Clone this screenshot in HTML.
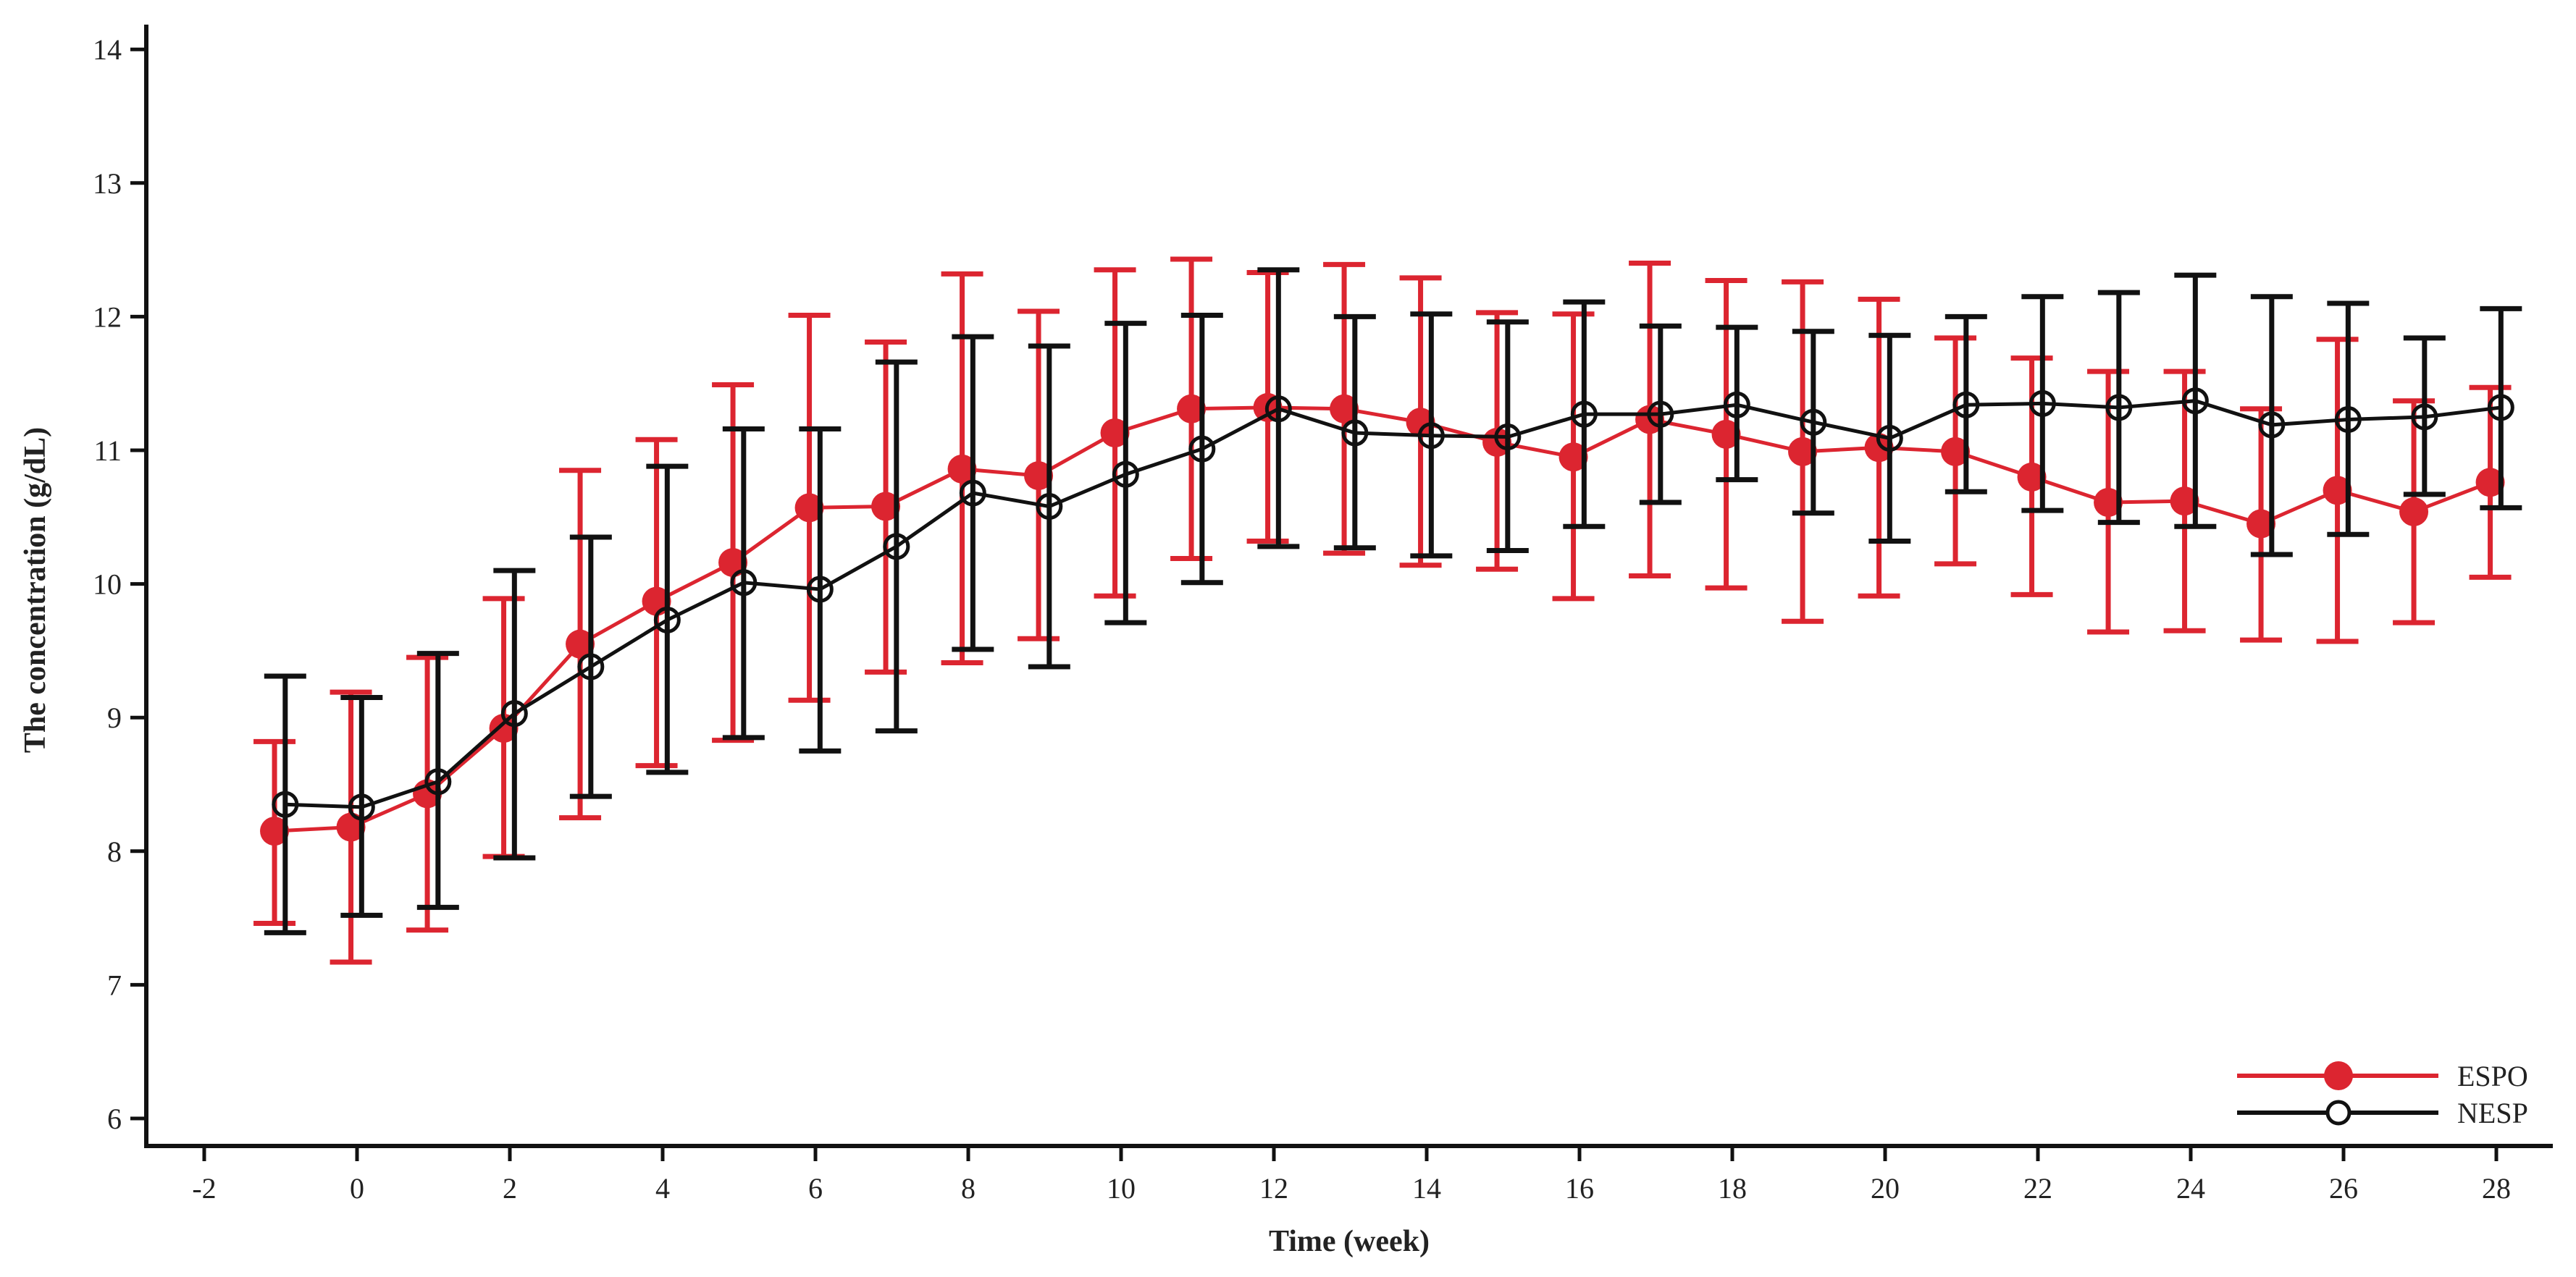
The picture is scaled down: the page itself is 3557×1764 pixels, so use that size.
<!DOCTYPE html>
<html><head><meta charset="utf-8">
<style>
html,body{margin:0;padding:0;background:#fff;}
svg{display:block;}
text{font-family:"Liberation Serif",serif;fill:#222;}
</style></head>
<body>
<svg id="chart" width="3557" height="1764" viewBox="0 0 3557 1764" xmlns="http://www.w3.org/2000/svg">
<g id="axes"></g>
<g id="series"></g>
<g id="legend"></g>
</svg>
<script>
const weeks = [-1,0,1,2,3,4,5,6,7,8,9,10,11,12,13,14,15,16,17,18,19,20,21,22,23,24,25,26,27,28];
const espoMean = [8.15,8.18,8.43,8.92,9.55,9.87,10.16,10.57,10.58,10.86,10.81,11.13,11.31,11.32,11.31,11.21,11.06,10.95,11.23,11.12,10.99,11.02,10.99,10.80,10.61,10.62,10.45,10.70,10.54,10.76];
const espoUpper = [8.82,9.19,9.45,9.89,10.85,11.08,11.49,12.01,11.81,12.32,12.04,12.35,12.43,12.33,12.39,12.29,12.03,12.02,12.40,12.27,12.26,12.13,11.84,11.69,11.59,11.59,11.31,11.83,11.37,11.47];
const espoLower = [7.46,7.17,7.41,7.96,8.25,8.64,8.83,9.13,9.34,9.41,9.59,9.91,10.19,10.32,10.23,10.14,10.11,9.89,10.06,9.97,9.72,9.91,10.15,9.92,9.64,9.65,9.58,9.57,9.71,10.05];
const nespMean = [8.35,8.33,8.52,9.03,9.38,9.73,10.01,9.96,10.28,10.68,10.58,10.82,11.01,11.31,11.13,11.11,11.10,11.27,11.27,11.34,11.21,11.09,11.34,11.35,11.32,11.37,11.19,11.23,11.25,11.32];
const nespUpper = [9.31,9.15,9.48,10.10,10.35,10.88,11.16,11.16,11.66,11.85,11.78,11.95,12.01,12.35,12.00,12.02,11.96,12.11,11.93,11.92,11.89,11.86,12.00,12.15,12.18,12.31,12.15,12.10,11.84,12.06];
const nespLower = [7.39,7.52,7.58,7.95,8.41,8.59,8.85,8.75,8.90,9.51,9.38,9.71,10.01,10.28,10.27,10.21,10.25,10.43,10.61,10.78,10.53,10.32,10.69,10.55,10.46,10.43,10.22,10.37,10.67,10.57];
const xTicks = [-2,0,2,4,6,8,10,12,14,16,18,20,22,24,26,28];
const yTicks = [6,7,8,9,10,11,12,13,14];

const NS='http://www.w3.org/2000/svg';
const X0=493, XW=105.5, Y6=1545, YU=184.6;
function xs(w){return X0+w*XW;}
function ys(v){return Y6-(v-6)*YU;}
function mk(tag,parent,attrs){const e=document.createElementNS(NS,tag);for(const k in attrs)e.setAttribute(k,attrs[k]);parent.appendChild(e);return e;}

const axes=document.getElementById('axes');
let yAxis=mk('line',axes,{x1:202,y1:34,x2:202,y2:1585,stroke:'#111','stroke-width':6});


let xAxis=mk('line',axes,{x1:199,y1:1583,x2:3525,y2:1583,stroke:'#111','stroke-width':6});


yTicks.forEach(v=>{
  const t=mk('line',axes,{x1:180,y1:ys(v),x2:202,y2:ys(v),stroke:'#111','stroke-width':5});
  
  
  const l=mk('text',axes,{x:168,y:ys(v)+14,'text-anchor':'end','font-size':40});
  l.textContent=v;
  
  
});
xTicks.forEach(w=>{
  const t=mk('line',axes,{x1:xs(w),y1:1583,x2:xs(w),y2:1604,stroke:'#111','stroke-width':5});
  
  
  const l=mk('text',axes,{x:xs(w),y:1655,'text-anchor':'middle','font-size':40});
  l.textContent=w;
  
  
});
let xt=mk('text',axes,{x:1863,y:1728,'text-anchor':'middle','font-size':42,'font-weight':'bold'});
xt.textContent='Time (week)';


let yt=mk('text',axes,{x:0,y:0,'text-anchor':'middle','font-size':42,'font-weight':'bold',transform:'translate(62,815) rotate(-90)'});
yt.textContent='The concentration (g/dL)';



const series=document.getElementById('series');
function drawSeries(name,mean,up,lo,color,off,filled){
  const g=mk('g',series,{});
  
  
  weeks.forEach((w,i)=>{
    const x=xs(w+off);
    const e=mk('path',g,{d:`M${x-29},${ys(up[i])}H${x+29}M${x},${ys(up[i])}V${ys(lo[i])}M${x-29},${ys(lo[i])}H${x+29}`,stroke:color,'stroke-width':7,fill:'none'});
    
    
  });
  const pts=weeks.map((w,i)=>xs(w+off)+','+ys(mean[i])).join(' ');
  const pl=mk('polyline',g,{points:pts,stroke:color,'stroke-width':5,fill:'none'});
  
  
  weeks.forEach((w,i)=>{
    const c=filled?mk('circle',g,{cx:xs(w+off),cy:ys(mean[i]),r:20,fill:color}):mk('circle',g,{cx:xs(w+off),cy:ys(mean[i]),r:16,fill:'none',stroke:color,'stroke-width':5});
    
    
  });
}
drawSeries('espo',espoMean,espoUpper,espoLower,'#dc2530',-0.08,true);
drawSeries('nesp',nespMean,nespUpper,nespLower,'#111',0.06,false);

const legend=document.getElementById('legend');
[['ESPO','#dc2530',1486,true],['NESP','#111',1537,false]].forEach(([lab,col,y,f])=>{
  const g=mk('g',legend,{});
  
  
  mk('line',g,{x1:3089,y1:y,x2:3367,y2:y,stroke:col,'stroke-width':6});
  if(f) mk('circle',g,{cx:3229,cy:y,r:20,fill:col});
  else mk('circle',g,{cx:3229,cy:y,r:15,fill:'#fff',stroke:col,'stroke-width':5});
  const t=mk('text',g,{x:3393,y:y+14,'font-size':40});
  t.textContent=lab;
});
</script>
</body></html>
